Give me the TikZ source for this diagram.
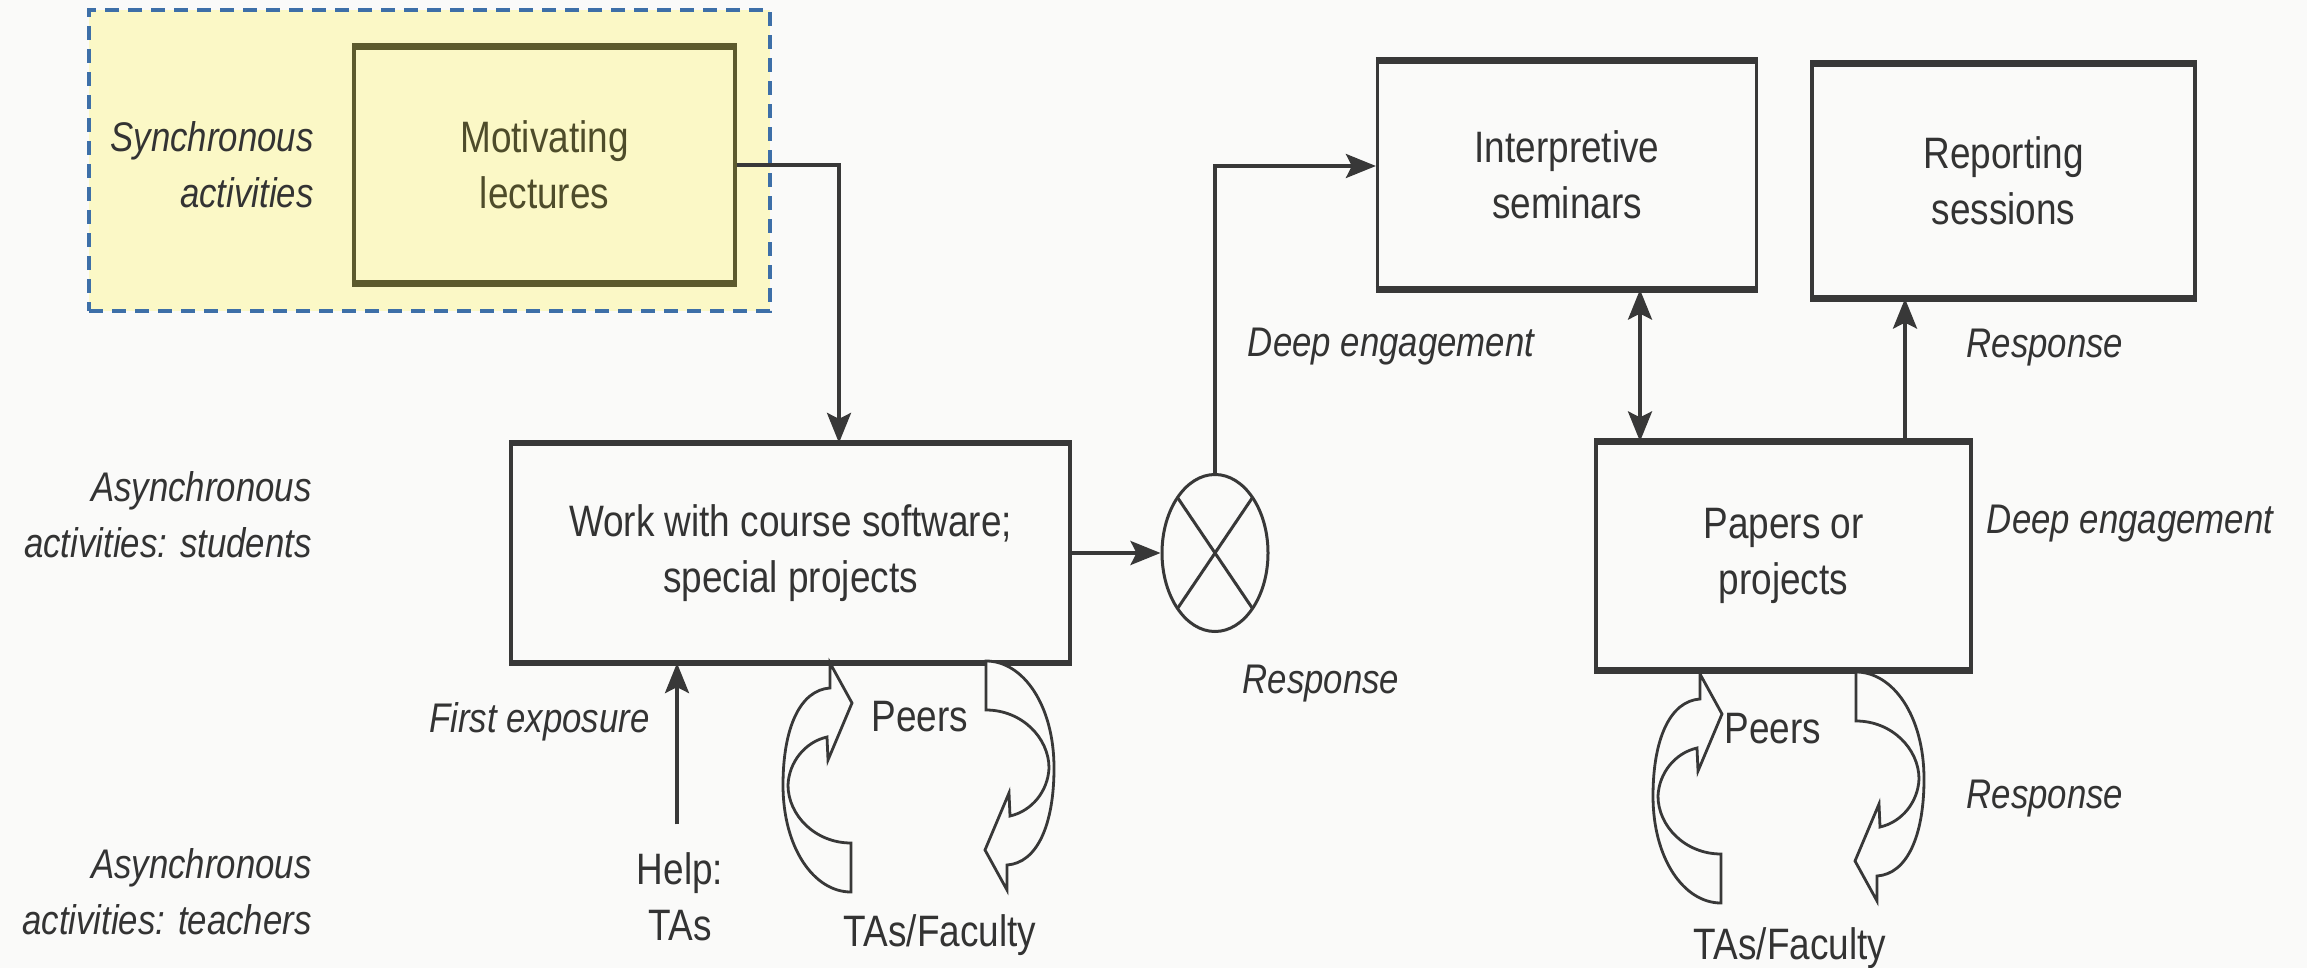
\documentclass[tikz,border=0pt]{standalone}
\usepackage{fontspec}
\setmainfont{Liberation Sans}[FakeStretch=0.84]
\usetikzlibrary{arrows.meta,shapes.geometric,calc}
\definecolor{bgc}{HTML}{FAFAF9}
\definecolor{yel}{HTML}{FBF8C6}
\definecolor{dashc}{HTML}{3D6FA8}
\definecolor{olivec}{HTML}{5C5A2C}
\definecolor{olivet}{HTML}{4E4C2A}
\definecolor{linec}{HTML}{383838}
\definecolor{textc}{HTML}{333333}
\tikzset{
  txt/.style={font=\fontsize{22}{28}\selectfont, text=textc, align=center, inner sep=0pt},
  lab/.style={txt, font=\fontsize{20.7}{28}\selectfont\itshape},
  boxed/.style={txt, draw=linec, line width=1.6pt},
  thickedge/.style={draw=linec, line width=3.2pt},
  arr/.style={draw=linec, line width=1.8pt, -{Stealth[length=15pt,width=12pt,inset=3pt]}},
  darr/.style={draw=linec, line width=1.8pt, {Stealth[length=15pt,width=12pt,inset=3pt]}-{Stealth[length=15pt,width=12pt,inset=3pt]}},
  hollow/.style={draw=linec, line width=1.4pt, fill=bgc, line join=miter},
  cyc/.pic={\draw[hollow] (851,892) .. controls (814,892) and (783,848) .. (783,785)
      .. controls (783,728) and (800,690) .. (830,688) -- (830,663) -- (852,703) -- (828,760) -- (827,737)
      .. controls (805,742) and (789,762) .. (788,785) .. controls (788,815) and (815,843) .. (851,843) -- cycle;}
}
\begin{document}
\begin{tikzpicture}[x=0.5pt,y=-0.5pt]
\fill[bgc] (0,0) rectangle (2307,968);
\useasboundingbox (0,0) rectangle (2307,968);

% synchronous region
\node (syncbg) [draw=dashc, fill=yel, line width=1.8pt, dash pattern=on 7pt off 4.5pt,
  minimum width=340.5pt, minimum height=150.5pt, inner sep=0pt] at (429.5,160.5) {};
\node (synclab) [lab, anchor=east, align=right] at (314,165) {Synchronous\\activities};
\node (mot) [boxed, draw=olivec, text=olivet, minimum width=190.5pt, minimum height=117pt] at (544.5,165) {Motivating\\lectures};

% row labels
\node (stud) [lab, anchor=east, align=right] at (312,515) {Asynchronous\\activities: students};
\node (teach) [lab, anchor=east, align=right] at (312,892) {Asynchronous\\activities: teachers};

% main boxes
\node (work) [boxed, minimum width=279.5pt, minimum height=108.5pt] at (790.5,553) {Work with course software;\\special projects};
\node (xo) [draw=linec, line width=1.5pt, ellipse, minimum width=53pt, minimum height=78.5pt, inner sep=0pt] at (1215,553) {};
\draw[linec, line width=1.5pt] ($(xo.center)+(-37.5,-55.5)$) -- ($(xo.center)+(37.5,55.5)$);
\draw[linec, line width=1.5pt] ($(xo.center)+(37.5,-55.5)$) -- ($(xo.center)+(-37.5,55.5)$);
\node (interp) [boxed, minimum width=189.5pt, minimum height=113pt] at (1567,175) {Interpretive\\seminars};
\node (report) [boxed, minimum width=191.5pt, minimum height=116pt] at (2003.5,181) {Reporting\\sessions};
\node (papers) [boxed, minimum width=187.5pt, minimum height=113pt] at (1783.5,556) {Papers or\\projects};
\foreach \n in {work,interp,report,papers}{
  \draw[thickedge] (\n.north west) -- (\n.north east) (\n.south west) -- (\n.south east);
}
\draw[draw=olivec, line width=3pt] (mot.north west) -- (mot.north east) (mot.south west) -- (mot.south east);

% connectors
\coordinate (c1) at (839,165);
\draw[arr] (mot.east) -- (c1) -- (c1 |- work.north);
\draw[arr] (work.east) -- (xo.west);
\coordinate (c2) at (1215,166);
\draw[arr] (xo.north) -- (c2) -- (c2 -| interp.west);
\coordinate (d1) at (1640,0);
\draw[darr] (interp.south -| d1) -- (papers.north -| d1);
\coordinate (r1) at (1905,0);
\draw[arr] (papers.north -| r1) -- (report.south -| r1);

% labels
\node (de1) [lab] at (1391,347) {Deep engagement};
\node (rs1) [lab] at (2045,348) {Response};
\node (de2) [lab] at (2130,524) {Deep engagement};
\node (rs2) [lab] at (1321,684) {Response};
\node (rs3) [lab] at (2045,799) {Response};
\node (fe) [lab, anchor=east] at (650,722) {First exposure};

% help
\node (help) [txt] at (680,897) {Help:\\TAs};
\draw[arr] ([yshift=14pt]help.north -| 677,0) -- (677,0 |- work.south);

% peer cycles
\pic at (0,0) {cyc};
\pic[rotate=180] at (1837,1553) {cyc};
\pic at (870,11) {cyc};
\pic[rotate=180] at (2707,1564) {cyc};
\node (peers1) [txt] at (920,717) {Peers};
\node (fac1) [txt] at (940,935) {TAs/Faculty};
\node (peers2) [txt] at (1773,729) {Peers};
\node (fac2) [txt] at (1790,948) {TAs/Faculty};
\end{tikzpicture}
\end{document}
